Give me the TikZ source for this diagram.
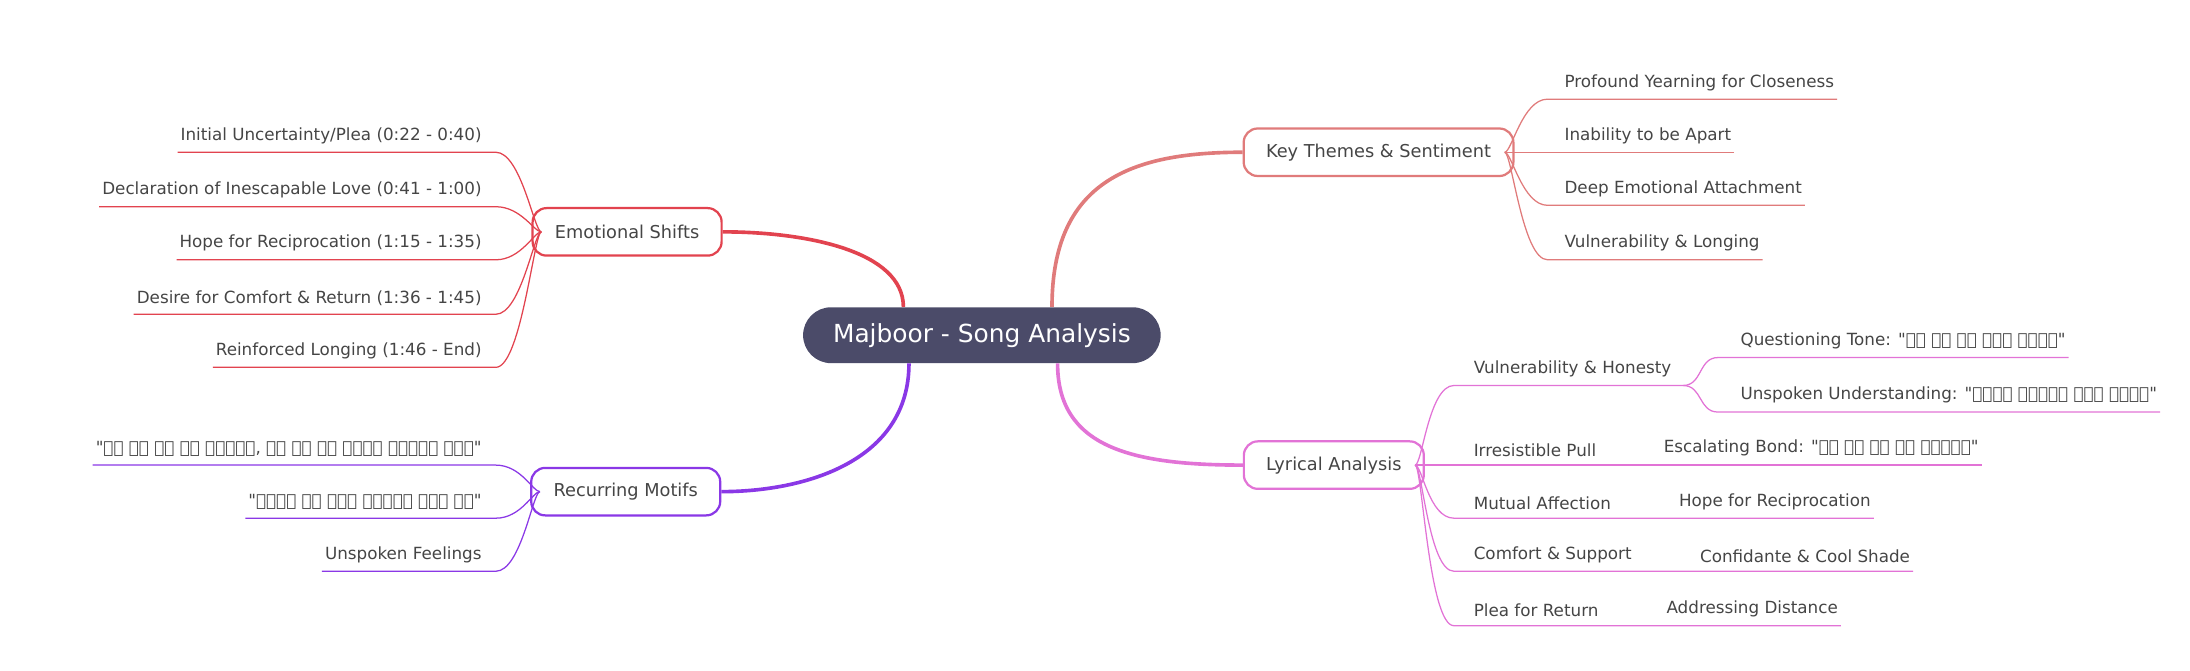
\documentclass[tikz,border=0pt]{standalone}
\usepackage{fontspec}
\setmainfont{DejaVu Sans}
\usetikzlibrary{positioning}
\definecolor{ctr}{HTML}{4B4B69}
\definecolor{cred}{HTML}{E2434F}
\definecolor{cpur}{HTML}{8A38E6}
\definecolor{csal}{HTML}{E07B7B}
\definecolor{cpink}{HTML}{E273D6}
\definecolor{ctxt}{HTML}{454545}

\tikzset{
  topic/.style={draw=#1, line width=1.6pt, rounded corners=10pt, fill=white,
    minimum height=34pt, inner xsep=16pt, text=ctxt, font=\fontsize{12.7}{14}\selectfont},
  leaf/.style={inner xsep=2pt, inner ysep=6pt, text=ctxt, font=\fontsize{12}{14}\selectfont},
  branch/.style={draw=#1, line width=2.6pt},
  twig/.style={draw=#1, line width=0.9pt}
}

\begin{document}
\begin{tikzpicture}[x=1pt,y=-1pt]
    \useasboundingbox (0,0) rectangle (1568,480);

    \node[fill=ctr, rounded corners=20pt, minimum width=256pt, minimum height=40pt,
          text=white, font=\fontsize{17.8}{20}\selectfont] (root) at (703,240) {Majboor - Song Analysis};

    \node[topic=cred]  (shifts) at (449,166) {Emotional Shifts};
    \node[topic=cpur]  (motifs) at (448,352) {Recurring Motifs};
    \node[topic=csal]  (themes) at (987,109) {Key Themes \& Sentiment};
    \node[topic=cpink] (lyric)  at (955,333) {Lyrical Analysis};

    \draw[branch=cred]  (root.north west) ++(72,0) coordinate (r1) .. controls +(0,-40) and +(60,0) .. (shifts.east);
    \draw[branch=cpur]  (root.south west) ++(76,0) coordinate (r2) .. controls +(0,70) and +(60,0) .. (motifs.east);
    \draw[branch=csal]  (root.north east) ++(-78,0) coordinate (r3) .. controls +(0,-90) and +(-80,0) .. (themes.west);
    \draw[branch=cpink] (root.south east) ++(-74,0) coordinate (r4) .. controls +(0,60) and +(-80,0) .. (lyric.west);

    % left side leaves
    \foreach \i/\y/\t in {1/109/{Initial Uncertainty/Plea (0:22 - 0:40)},
                          2/148/{Declaration of Inescapable Love (0:41 - 1:00)},
                          3/186/{Hope for Reciprocation (1:15 - 1:35)},
                          4/225/{Desire for Comfort \& Return (1:36 - 1:45)},
                          5/263/{Reinforced Longing (1:46 - End)}} {
        \node[leaf, anchor=south east] (es\i) at (347,\y) {\t};
        \draw[twig=cred] (es\i.south west) -- (es\i.south east) -- ++(8,0) .. controls +(18,0) and +(-5,0) .. ([xshift=7pt]shifts.west);
    }
    \foreach \i/\y/\t in {1/333/{\textquotedbl तू ही तो है मजबूर, के रह ना पाऊं तुझसे दूर\textquotedbl},
                          2/371/{\textquotedbl मेरी गल सुन ऐत्थे बैत तू\textquotedbl},
                          3/409/{Unspoken Feelings}} {
        \node[leaf, anchor=south east] (rm\i) at (347,\y) {\t};
        \draw[twig=cpur] (rm\i.south west) -- (rm\i.south east) -- ++(8,0) .. controls +(18,0) and +(-5,0) .. ([xshift=7pt]motifs.west);
    }

    % right side leaves
    \foreach \i/\y/\t in {1/71/{Profound Yearning for Closeness},
                          2/109/{Inability to be Apart},
                          3/147/{Deep Emotional Attachment},
                          4/186/{Vulnerability \& Longing}} {
        \node[leaf, anchor=south west] (kt\i) at (1118,\y) {\t};
        \draw[twig=csal] (kt\i.south east) -- (kt\i.south west) -- ++(-10,0) .. controls +(-18,0) and +(5,0) .. ([xshift=-7pt]themes.east);
    }

    \foreach \i/\y/\t/\c/\cx in {2/333/{Irresistible Pull}/{Escalating Bond: \textquotedbl तू ही तो है मजबूर\textquotedbl}/1189,
                                 3/371/{Mutual Affection}/{Hope for Reciprocation}/1200,
                                 4/409/{Comfort \& Support}/{Confidante \& Cool Shade}/1215,
                                 5/448/{Plea for Return}/{Addressing Distance}/1191} {
        \node[leaf, anchor=south west] (la\i) at (1053,\y) {\t};
        \node[leaf, anchor=south west] (lc\i) at (\cx,\y) {\c};
        \draw[twig=cpink] (lc\i.south east) -- (la\i.south west) -- ++(-12,0) .. controls +(-18,0) and +(5,0) .. ([xshift=-7pt]lyric.east);
    }
    \node[leaf, anchor=south west] (la1) at (1053,276) {Vulnerability \& Honesty};
    \draw[twig=cpink] ([xshift=152pt]la1.south west) -- (la1.south west) -- ++(-12,0) .. controls +(-18,0) and +(5,0) .. ([xshift=-7pt]lyric.east);
    \foreach \i/\y/\t in {1/256/{Questioning Tone: \textquotedbl सच तू या मैं झूठा\textquotedbl},
                          2/295/{Unspoken Understanding: \textquotedbl मेरी आंखों में देखो\textquotedbl}} {
        \node[leaf, anchor=south west] (vh\i) at (1244,\y) {\t};
        \draw[twig=cpink] (vh\i.south east) -- (vh\i.south west) -- ++(-14,0) .. controls +(-14,0) and +(14,0) .. ([xshift=152pt]la1.south west);
    }
\end{tikzpicture}
\end{document}
